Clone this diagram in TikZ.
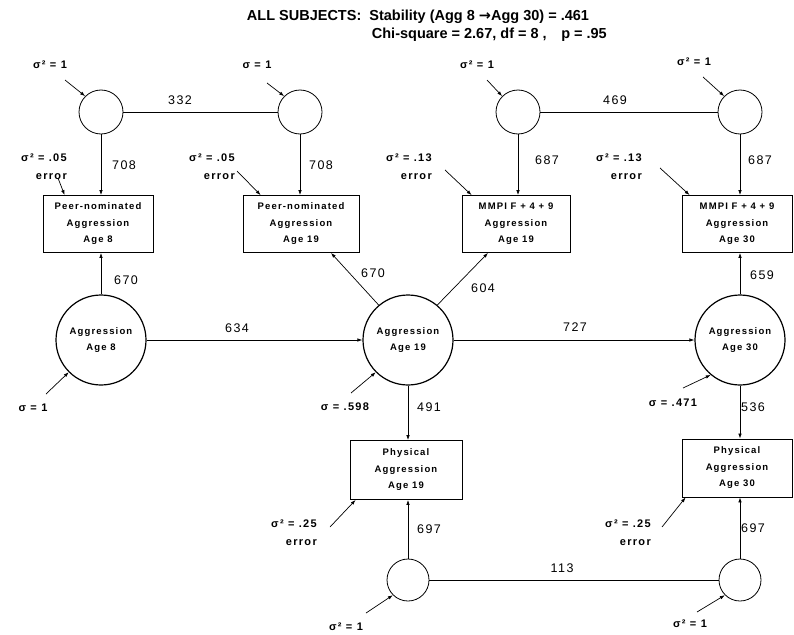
\documentclass[tikz,border=0pt]{standalone}
\usepackage{fontspec}
\setmainfont{Liberation Sans}
\newfontfamily\wide[LetterSpace=12]{Liberation Sans}
\newfontfamily\arrowfont{DejaVu Sans}
\usetikzlibrary{arrows.meta}

\begin{document}
\begin{tikzpicture}[x=1pt,y=-1pt,
  lat/.style={circle,draw,line width=1.2pt,minimum size=90pt,inner sep=0pt,align=center,
    font=\wide\bfseries\fontsize{9.5}{16}\selectfont},
  fac/.style={circle,draw,line width=0.8pt,minimum size=44pt,inner sep=0pt},
  ind/.style={draw,line width=0.8pt,minimum width=110pt,minimum height=57pt,inner sep=1pt,align=center,
    font=\wide\bfseries\fontsize{9.5}{16.5}\selectfont},
  coef/.style={inner sep=1pt,font=\wide\fontsize{12.5}{14}\selectfont},
  sig/.style={inner sep=1pt,align=right,font=\wide\bfseries\fontsize{11}{18}\selectfont},
  title/.style={inner sep=0pt,font=\bfseries\fontsize{14.5}{17}\selectfont},
  path/.style={-{Latex[length=5pt,width=3.5pt]},line width=0.7pt},
  cor/.style={line width=0.8pt}]

\useasboundingbox (0,0) rectangle (794,634);

% heading
\node[title] (head) at (418,17) {ALL SUBJECTS:\ \ Stability (Agg 8 {\arrowfont→}Agg 30) = .461};
\node[title,anchor=east] (chi) at (607,35) {Chi-square = 2.67, df = 8 ,\quad p = .95};

% latent factors
\node[fac] (c1) at (101,112) {};
\node[fac] (c2) at (300,112) {};
\node[fac] (c3) at (518,112) {};
\node[fac] (c4) at (740,112) {};
\node[fac,minimum size=42pt] (l1) at (408,580) {};
\node[fac,minimum size=42pt] (l2) at (740,580) {};

\node[lat] (a8) at (101,340) {Aggression\\Age 8};
\node[lat] (a19) at (408,340) {Aggression\\Age 19};
\node[lat] (a30) at (740,340) {Aggression\\Age 30};

% indicators
\node[ind] (b1) at (98,224) {Peer-nominated\\Aggression\\Age 8};
\node[ind,minimum width=116pt] (b2) at (301,224) {Peer-nominated\\Aggression\\Age 19};
\node[ind,minimum width=108pt] (b3) at (516,224) {MMPI F + 4 + 9\\Aggression\\Age 19};
\node[ind] (b4) at (737,224) {MMPI F + 4 + 9\\Aggression\\Age 30};
\node[ind,minimum width=112pt,minimum height=59pt] (p19) at (406,470) {Physical\\Aggression\\Age 19};
\node[ind,minimum height=58pt] (p30) at (737,468) {Physical\\Aggression\\Age 30};

% connectors
\draw[cor] (c1) -- (c2);
\draw[cor] (c3) -- (c4);
\draw[cor] (l1) -- (l2);
\draw[path] (c1.south) -- (c1.south |- b1.north);
\draw[path] (c2.south) -- (c2.south |- b2.north);
\draw[path] (c3.south) -- (c3.south |- b3.north);
\draw[path] (c4.south) -- (c4.south |- b4.north);
\draw[path] (a8.north) -- (a8.north |- b1.south);
\draw[path] (a19.130) -- ([xshift=30pt]b2.south);
\draw[path] (a19.50) -- ([xshift=-28pt]b3.south);
\draw[path] (a30.north) -- (a30.north |- b4.south);
\draw[path] (a8) -- (a19);
\draw[path] (a19) -- (a30);
\draw[path] (a19.south) -- (a19.south |- p19.north);
\draw[path] (a30.south) -- (a30.south |- p30.north);
\draw[path] (l1.north) -- (l1.north |- p19.south);
\draw[path] (l2.north) -- (l2.north |- p30.south);

% coefficients
\node[coef] (k332) at (180,100) {332};
\node[coef] (k469) at (615,100) {469};
\node[coef] (k113) at (562,568) {113};
\node[coef] (k708a) at (124,165) {708};
\node[coef] (k708b) at (321,165) {708};
\node[coef] (k687a) at (547,160) {687};
\node[coef] (k687b) at (760,160) {687};
\node[coef] (k670a) at (126,280) {670};
\node[coef] (k634) at (237,328) {634};
\node[coef] (k670b) at (373,273) {670};
\node[coef] (k604) at (483,288) {604};
\node[coef] (k727) at (575,327) {727};
\node[coef] (k659) at (762,275) {659};
\node[coef] (k491) at (429,407) {491};
\node[coef] (k536) at (753,407) {536};
\node[coef] (k697a) at (429,529) {697};
\node[coef] (k697b) at (753,528) {697};

% variances
\node[sig] (s1) at (50,65) {σ² = 1};
\node[sig] (s2) at (257,65) {σ = 1};
\node[sig] (s3) at (477,65) {σ² = 1};
\node[sig] (s4) at (694,62) {σ² = 1};
\node[sig] (s5) at (346,627) {σ² = 1};
\node[sig] (s6) at (690,624) {σ² = 1};
\node[sig] (s7) at (33,408) {σ = 1};
\node[sig] (s8) at (345,407) {σ = .598};
\node[sig] (s9) at (673,403) {σ = .471};
\node[sig,anchor=east] (e1) at (68,167) {σ² = .05\\error};
\node[sig,anchor=east] (e2) at (236,167) {σ² = .05\\error};
\node[sig,anchor=east] (e3) at (433,167) {σ² = .13\\error};
\node[sig,anchor=east] (e4) at (643,167) {σ² = .13\\error};
\node[sig,anchor=east] (e5) at (318,533) {σ² = .25\\error};
\node[sig,anchor=east] (e6) at (652,533) {σ² = .25\\error};

\coordinate (t1) at (65,80);
\coordinate (t2) at (267,83);
\coordinate (t3) at (487,80);
\coordinate (t4) at (703,77);
\coordinate (t5) at (366,613);
\coordinate (t6) at (697,612);
\coordinate (t7) at (46,394);
\coordinate (t8) at (351,393);
\coordinate (t9) at (683,388);
\coordinate (u1) at (58,178);
\coordinate (u2) at (237,171);
\coordinate (u3) at (445,170);
\coordinate (u4) at (660,168);
\coordinate (u5) at (330,527);
\coordinate (u6) at (662,527);

\draw[path] (t1) -- (c1.135);
\draw[path] (t2) -- (c2.135);
\draw[path] (t3) -- (c3.135);
\draw[path] (t4) -- (c4.135);
\draw[path] (t5) -- (l1.225);
\draw[path] (t6) -- (l2.225);
\draw[path] (t7) -- (a8.225);
\draw[path] (t8) -- (a19.225);
\draw[path] (t9) -- (a30.230);
\draw[path] (u1) -- ([xshift=22pt]b1.north west);
\draw[path] (u2) -- ([xshift=18pt]b2.north west);
\draw[path] (u3) -- ([xshift=10pt]b3.north west);
\draw[path] (u4) -- ([xshift=8pt]b4.north west);
\draw[path] (u5) -- ([xshift=6pt]p19.south west);
\draw[path] (u6) -- ([xshift=4pt]p30.south west);
\end{tikzpicture}
\end{document}
